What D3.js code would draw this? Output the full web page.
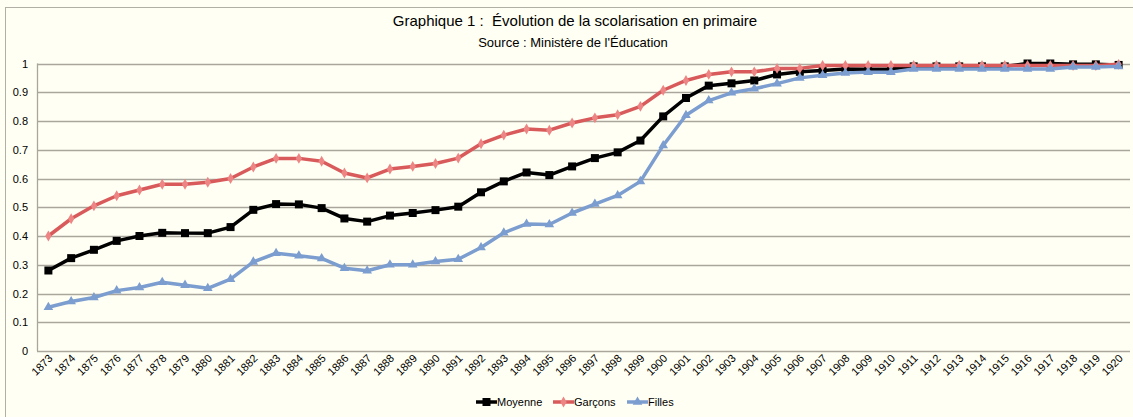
<!DOCTYPE html>
<html>
<head>
<meta charset="utf-8">
<script src="https://cdn.jsdelivr.net/npm/d3@7"></script>
<style>
  body { margin: 0; background: #fffff3; }
  text { font-family: "Liberation Sans", Arial, sans-serif; fill: #000; white-space: pre; }
</style>
</head>
<body>
<svg width="1133" height="417"></svg>
<script>
// Graphique 1 : scolarisation en primaire

var years = d3.range(1873, 1921);

var moyenne = [0.28, 0.323, 0.352, 0.383, 0.40, 0.411, 0.41, 0.41, 0.431, 0.491,
    0.511, 0.51, 0.497, 0.461, 0.45, 0.471, 0.48, 0.49, 0.502, 0.552,
    0.59, 0.621, 0.612, 0.642, 0.671, 0.691, 0.732, 0.816, 0.88, 0.923,
    0.931, 0.941, 0.962, 0.971, 0.976, 0.981, 0.98, 0.98, 0.99, 0.99,
    0.99, 0.99, 0.99, 1.0, 1.0, 0.997, 0.997, 0.995];

var garcons = [0.40, 0.46, 0.505, 0.54, 0.56, 0.58, 0.58, 0.587, 0.60, 0.64,
    0.67, 0.67, 0.66, 0.619, 0.602, 0.633, 0.642, 0.652, 0.671, 0.721,
    0.751, 0.772, 0.768, 0.793, 0.811, 0.822, 0.851, 0.907, 0.941, 0.962,
    0.971, 0.971, 0.983, 0.983, 0.993, 0.993, 0.993, 0.993, 0.993, 0.993,
    0.993, 0.993, 0.993, 0.993, 0.993, 0.993, 0.993, 0.997];

var filles = [0.152, 0.172, 0.186, 0.21, 0.221, 0.239, 0.229, 0.218, 0.25, 0.31,
    0.34, 0.331, 0.322, 0.288, 0.279, 0.30, 0.30, 0.311, 0.319, 0.36,
    0.411, 0.442, 0.44, 0.48, 0.511, 0.541, 0.59, 0.715, 0.82, 0.871,
    0.898, 0.912, 0.93, 0.95, 0.959, 0.967, 0.97, 0.97, 0.981, 0.981,
    0.981, 0.981, 0.981, 0.981, 0.981, 0.988, 0.988, 0.99];

var yTicks = [0, 0.1, 0.2, 0.3, 0.4, 0.5, 0.6, 0.7, 0.8, 0.9, 1];

var series = [
    {name: "Moyenne", values: moyenne, color: "#000000", marker: "#000000", symbol: d3.symbolSquare, size: 64},
    {name: "Garçons", values: garcons, color: "#d95a5b", marker: "#ee8585", symbol: d3.symbolDiamond, size: 34},
    {name: "Filles", values: filles, color: "#7b9dcf", marker: "#7b9dcf", symbol: d3.symbolTriangle, size: 40}
];

var svg = d3.select("svg");

// cadre extérieur
svg.append("rect")
    .attr("x", 5.5).attr("y", 7.5)
    .attr("width", 1140).attr("height", 420)
    .attr("fill", "#fffff3")
    .attr("stroke", "#b2afa7");

svg.append("text")
    .attr("x", 575).attr("y", 26)
    .attr("text-anchor", "middle")
    .attr("font-size", 15)
    .text("Graphique 1 :  Évolution de la scolarisation en primaire");

svg.append("text")
    .attr("x", 573).attr("y", 47)
    .attr("text-anchor", "middle")
    .attr("font-size", 13)
    .text("Source : Ministère de l'Éducation");

var x = d3.scaleBand().domain(years).range([37, 1130]);
var y = d3.scaleLinear().domain([0, 1]).range([351, 63.5]);

function cx(i) { return x(years[i]) + x.bandwidth() / 2; }

// grille
svg.append("g").selectAll("line")
    .data(yTicks)
    .enter()
    .append("line")
    .attr("x1", 37).attr("x2", 1130)
    .attr("y1", function(d) { return Math.round(y(d)) + 0.5; })
    .attr("y2", function(d) { return Math.round(y(d)) + 0.5; })
    .attr("stroke", "#aaa69e")
    .attr("stroke-width", 1.3);

svg.append("line")
    .attr("x1", 37.5).attr("x2", 37.5)
    .attr("y1", y(1)).attr("y2", y(0))
    .attr("stroke", "#aaa69e")
    .attr("stroke-width", 1.3);

// axe Y
svg.append("g").selectAll("text")
    .data(yTicks)
    .enter()
    .append("text")
    .attr("x", 28)
    .attr("y", function(d) { return y(d) + 4; })
    .attr("text-anchor", "end")
    .attr("font-size", 11)
    .text(function(d) { return d3.format("")(d); });

// axe X
svg.append("g").selectAll("text")
    .data(years)
    .enter()
    .append("text")
    .attr("transform", function(d) {
        return "translate(" + (x(d) + x.bandwidth() / 2 + 5) + ",359) rotate(-45)";
    })
    .attr("text-anchor", "end")
    .attr("font-size", 11)
    .text(function(d) { return d; });

var line = d3.line()
    .x(function(d, i) { return cx(i); })
    .y(function(d) { return y(d); });

series.forEach(function(s) {
    var g = svg.append("g");
    g.append("path")
        .attr("d", line(s.values))
        .attr("fill", "none")
        .attr("stroke", s.color)
        .attr("stroke-width", 3.5)
        .attr("stroke-linejoin", "round");
    g.selectAll("path.m")
        .data(s.values)
        .enter()
        .append("path")
        .attr("class", "m")
        .attr("transform", function(d, i) { return "translate(" + cx(i) + "," + y(d) + ")"; })
        .attr("d", d3.symbol().type(s.symbol).size(s.size))
        .attr("fill", s.marker);
});

// légende
var legendX = [476, 553, 627];
var leg = svg.append("g").selectAll("g")
    .data(series)
    .enter()
    .append("g")
    .attr("transform", function(d, i) { return "translate(" + legendX[i] + ",402)"; });
leg.append("line")
    .attr("x1", 0).attr("x2", 21)
    .attr("stroke", function(d) { return d.color; })
    .attr("stroke-width", 3.5);
leg.append("path")
    .attr("transform", "translate(10.5,0)")
    .attr("d", function(d) { return d3.symbol().type(d.symbol).size(d.size)(); })
    .attr("fill", function(d) { return d.marker; });
leg.append("text")
    .attr("x", 21).attr("y", 4)
    .attr("font-size", 11)
    .text(function(d) { return d.name; });
</script>
</body>
</html>
